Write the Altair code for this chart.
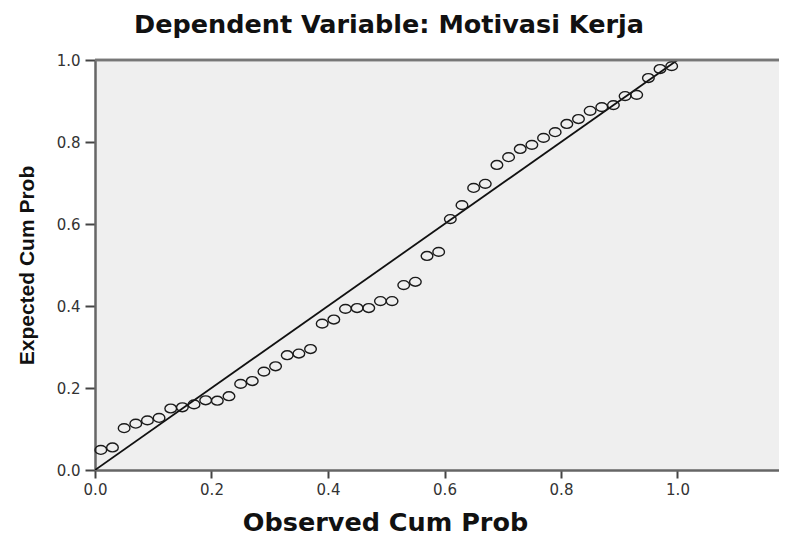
import altair as alt
import pandas as pd

# Observed / expected cumulative probabilities
observed = [0.01, 0.03, 0.05, 0.07, 0.09, 0.11, 0.13, 0.15, 0.17, 0.19,
            0.21, 0.23, 0.25, 0.27, 0.29, 0.31, 0.33, 0.35, 0.37, 0.39,
            0.41, 0.43, 0.45, 0.47, 0.49, 0.51, 0.53, 0.55, 0.57, 0.59,
            0.61, 0.63, 0.65, 0.67, 0.69, 0.71, 0.73, 0.75, 0.77, 0.79,
            0.81, 0.83, 0.85, 0.87, 0.89, 0.91, 0.93, 0.95, 0.97, 0.99]
expected = [0.049, 0.055, 0.102, 0.113, 0.121, 0.127, 0.150, 0.153, 0.160, 0.170,
            0.169, 0.180, 0.210, 0.217, 0.240, 0.253, 0.280, 0.284, 0.295, 0.357,
            0.367, 0.393, 0.395, 0.395, 0.412, 0.412, 0.451, 0.459, 0.522, 0.532,
            0.612, 0.646, 0.688, 0.698, 0.744, 0.763, 0.783, 0.793, 0.810, 0.824,
            0.844, 0.856, 0.876, 0.885, 0.890, 0.912, 0.915, 0.956, 0.978, 0.985]
diag_x = [0.0, 1.0]
diag_y = [0.0, 1.0]
tick_values = [0.0, 0.2, 0.4, 0.6, 0.8, 1.0]
title_text = ["Dependent Variable: Motivasi Kerja"]

W, H = 684, 410
XMAX = 684 / 582.5

pts = pd.DataFrame({"obs": observed, "exp": expected})
diag = pd.DataFrame({"obs": diag_x, "exp": diag_y})
ttl = pd.DataFrame({"t": title_text})

xscale = alt.Scale(domain=[0, XMAX], nice=False, zero=False)
yscale = alt.Scale(domain=[0, 1], nice=False, zero=False)

xaxis = alt.Axis(values=tick_values, format=".1f", title="Observed Cum Prob",
                 grid=False, tickSize=8, labelPadding=4,
                 labelFont="DejaVu Sans", labelFontSize=15, labelColor="#333",
                 domainColor="#666", domainWidth=2.5, tickColor="#444", tickWidth=2,
                 titleFont="DejaVu Sans", titleFontSize=25.5, titleFontWeight="bold",
                 titleColor="#111", titleX=290, titleY=60, titleBaseline="alphabetic",
                 titleAlign="center", labelFlush=False)
yaxis = alt.Axis(values=tick_values, format=".1f", title="Expected Cum Prob",
                 grid=False, tickSize=10, labelPadding=5,
                 labelFont="DejaVu Sans", labelFontSize=15, labelColor="#333",
                 domainColor="#666", domainWidth=2.5, tickColor="#444", tickWidth=2,
                 titleFont="Liberation Sans", titleFontSize=21, titleFontWeight="bold",
                 titleColor="#111", titleX=-62, titleY=205, titleBaseline="alphabetic",
                 titleAlign="center", titleAngle=270, labelFlush=False)

line = alt.Chart(diag).mark_line(color="#111", strokeWidth=1.8, clip=True).encode(
    x=alt.X("obs:Q", scale=xscale, axis=xaxis),
    y=alt.Y("exp:Q", scale=yscale, axis=yaxis),
)

ellipse = "M-1,0A1,0.76,0,1,1,1,0A1,0.76,0,1,1,-1,0Z"
points = alt.Chart(pts).mark_point(shape=ellipse, size=135, filled=False,
                                   color="#1a1a1a", strokeWidth=1.4, opacity=1).encode(
    x=alt.X("obs:Q", scale=xscale),
    y=alt.Y("exp:Q", scale=yscale),
)

top_border = alt.Chart(diag).mark_rule(color="#777", strokeWidth=2.5).encode(
    x=alt.value(0), x2=alt.value(W), y=alt.value(0)
)

title = alt.Chart(ttl).mark_text(font="DejaVu Sans", fontSize=25.5, fontWeight="bold",
                                 color="#111", align="center", baseline="alphabetic").encode(
    text="t:N", x=alt.value(294), y=alt.value(-27)
)

chart = alt.layer(line, points, top_border, title).properties(
    width=W, height=H,
    padding={"left": 87, "top": 52, "right": 0, "bottom": 66},
    autosize=alt.AutoSizeParams(type="none"),
    background="white",
).configure_view(fill="#EFEFEF", stroke=None)

chart.save("out.html", embed_options={"renderer": "svg", "actions": False})
